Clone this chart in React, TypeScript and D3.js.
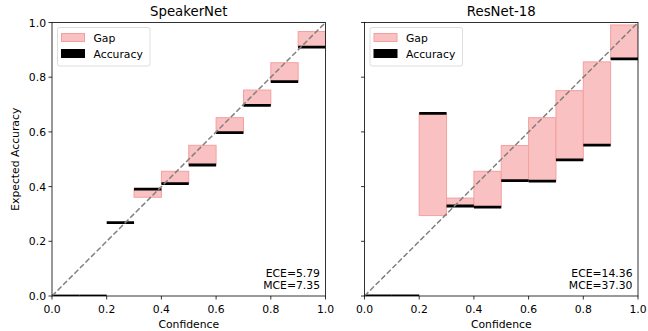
import React, { useEffect, useRef } from 'react';
import * as d3 from 'd3';

// bin lower edges (width 0.1)
const bins = [0, 0.1, 0.2, 0.3, 0.4, 0.5, 0.6, 0.7, 0.8, 0.9];

const speakerAcc = [0, 0, 0.268, 0.391, 0.411, 0.479, 0.597, 0.697, 0.784, 0.91];
const speakerConf = [0, 0, 0.266, 0.361, 0.456, 0.551, 0.652, 0.753, 0.853, 0.967];
const resnetAcc = [0, 0, 0.668, 0.329, 0.325, 0.422, 0.42, 0.498, 0.552, 0.867];
const resnetConf = [0, 0, 0.294, 0.358, 0.456, 0.55, 0.652, 0.751, 0.856, 0.991];

const panels = [
  { title: 'SpeakerNet', acc: speakerAcc, conf: speakerConf, ece: 'ECE=5.79', mce: 'MCE=7.35' },
  { title: 'ResNet-18', acc: resnetAcc, conf: resnetConf, ece: 'ECE=14.36', mce: 'MCE=37.30' },
];

const ticks = [0, 0.2, 0.4, 0.6, 0.8, 1.0];
const legendItems = ['Gap', 'Accuracy'];

const W = 648;
const H = 331;
const FONT = 'DejaVu Sans, sans-serif';
const FS = '10.8px';

const App = () => {
  const ref = useRef<SVGSVGElement | null>(null);

  useEffect(() => {
    const svg = d3.select(ref.current);
    svg.selectAll('*').remove();

    const top = 22.5;
    const bottom = 296;
    const lefts = [52, 364.5];
    const width = 273.5;

    const y = d3.scaleLinear().domain([0, 1]).range([bottom, top]);

    panels.forEach((p, pi) => {
      const x = d3.scaleLinear().domain([0, 1]).range([lefts[pi], lefts[pi] + width]);
      const g = svg.append('g');

      const clipId = `clip-${pi}`;
      svg
        .append('defs')
        .append('clipPath')
        .attr('id', clipId)
        .append('rect')
        .attr('x', x(0))
        .attr('y', y(1))
        .attr('width', width)
        .attr('height', bottom - top);

      const plot = g.append('g').attr('clip-path', `url(#${clipId})`);

      // gap bars
      plot
        .selectAll('.gap')
        .data(bins)
        .enter()
        .append('rect')
        .attr('x', d => x(d))
        .attr('width', d => x(d + 0.1) - x(d))
        .attr('y', (d, i) => y(Math.max(p.acc[i], p.conf[i])))
        .attr('height', (d, i) => Math.abs(y(p.acc[i]) - y(p.conf[i])))
        .attr('fill', '#f9c1c1')
        .attr('stroke', '#f4a0a0')
        .attr('stroke-width', 1)
        .style('display', (d, i) => (Math.abs(p.acc[i] - p.conf[i]) < 0.004 ? 'none' : null));

      // accuracy lines
      plot
        .selectAll('.acc')
        .data(bins)
        .enter()
        .append('line')
        .attr('x1', d => x(d))
        .attr('x2', d => x(d + 0.1))
        .attr('y1', (d, i) => y(p.acc[i]))
        .attr('y2', (d, i) => y(p.acc[i]))
        .attr('stroke', 'black')
        .attr('stroke-width', 2.8);

      // diagonal
      plot
        .append('line')
        .attr('x1', x(0))
        .attr('y1', y(0))
        .attr('x2', x(1))
        .attr('y2', y(1))
        .attr('stroke', '#808080')
        .attr('stroke-width', 1.5)
        .attr('stroke-dasharray', '5.5,2.4');

      // spines
      g.append('rect')
        .attr('x', x(0))
        .attr('y', y(1))
        .attr('width', width)
        .attr('height', bottom - top)
        .attr('fill', 'none')
        .attr('stroke', 'black')
        .attr('stroke-width', 0.8);

      // x axis
      g.selectAll('.xt')
        .data(ticks)
        .enter()
        .append('line')
        .attr('x1', d => x(d))
        .attr('x2', d => x(d))
        .attr('y1', bottom)
        .attr('y2', bottom + 3.5)
        .attr('stroke', 'black')
        .attr('stroke-width', 0.8);
      g.selectAll('.xl')
        .data(ticks)
        .enter()
        .append('text')
        .attr('x', d => x(d))
        .attr('y', bottom + 16.5)
        .attr('text-anchor', 'middle')
        .style('font-family', FONT)
        .style('font-size', FS)
        .text(d => d3.format('.1f')(d));

      // y axis
      g.selectAll('.yt')
        .data(ticks)
        .enter()
        .append('line')
        .attr('x1', x(0) - 3.5)
        .attr('x2', x(0))
        .attr('y1', d => y(d))
        .attr('y2', d => y(d))
        .attr('stroke', 'black')
        .attr('stroke-width', 0.8);
      if (pi === 0) {
        g.selectAll('.yl')
          .data(ticks)
          .enter()
          .append('text')
          .attr('x', x(0) - 6)
          .attr('y', d => y(d) + 4)
          .attr('text-anchor', 'end')
          .style('font-family', FONT)
          .style('font-size', FS)
          .text(d => d3.format('.1f')(d));
        g.append('text')
          .attr('transform', `translate(18.5,${(top + bottom) / 2}) rotate(-90)`)
          .attr('text-anchor', 'middle')
          .style('font-family', FONT)
          .style('font-size', FS)
          .text('Expected Accuracy');
      }

      // x label
      g.append('text')
        .attr('x', x(0.5))
        .attr('y', bottom + 32)
        .attr('text-anchor', 'middle')
        .style('font-family', FONT)
        .style('font-size', FS)
        .text('Confidence');

      // title
      g.append('text')
        .attr('x', x(0.5))
        .attr('y', 16)
        .attr('text-anchor', 'middle')
        .style('font-family', FONT)
        .style('font-size', '13.3px')
        .text(p.title);

      // ECE / MCE
      g.append('text')
        .attr('x', x(1) - 5.5)
        .attr('y', 276.5)
        .attr('text-anchor', 'end')
        .style('font-family', FONT)
        .style('font-size', FS)
        .text(p.ece);
      g.append('text')
        .attr('x', x(1) - 5.5)
        .attr('y', 289)
        .attr('text-anchor', 'end')
        .style('font-family', FONT)
        .style('font-size', FS)
        .text(p.mce);

      // legend
      const lg = g.append('g').attr('transform', `translate(${x(0) + 5.5},27.5)`);
      lg.append('rect')
        .attr('width', 92.5)
        .attr('height', 38.5)
        .attr('rx', 2)
        .attr('fill', 'white')
        .attr('fill-opacity', 0.8)
        .attr('stroke', '#d5d5d5')
        .attr('stroke-width', 0.8);
      legendItems.forEach((name, i) => {
        const yy = 6 + i * 16;
        lg.append('rect')
          .attr('x', 4)
          .attr('y', yy)
          .attr('width', 23)
          .attr('height', 8)
          .attr('fill', i === 0 ? '#f9c1c1' : 'black')
          .attr('stroke', i === 0 ? '#f4a0a0' : 'black')
          .attr('stroke-width', 1);
        lg.append('text')
          .attr('x', 36)
          .attr('y', yy + 8)
          .style('font-family', FONT)
          .style('font-size', FS)
          .text(name);
      });
    });
  }, []);

  return (
    <svg
      ref={ref}
      width={W}
      height={H}
      style={{ display: 'block', background: 'white', position: 'absolute', left: 0, top: 0 }}
    />
  );
};

export default App;
